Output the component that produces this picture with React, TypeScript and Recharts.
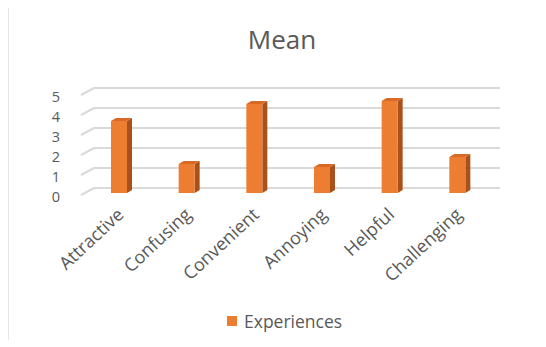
import { BarChart, Bar, XAxis, YAxis, CartesianGrid } from "recharts"

const categories = ["Attractive", "Confusing", "Convenient", "Annoying", "Helpful", "Challenging"]
const meanValues = [3.6, 1.45, 4.45, 1.3, 4.6, 1.8]
const yTicks = [0, 1, 2, 3, 4, 5]
const seriesName = "Experiences"
const chartTitle = "Mean"

const data = categories.map((name, i) => ({ name, value: meanValues[i] }))

const FONT = "'Open Sans', sans-serif"
const TEXT = "#595959"
const ORANGE = "#ED7D31"

// 3D-ish column like Excel: front face shifted forward from the back wall
function Column3D(props: any) {
  const { x, y, width, height } = props
  if (height == null || width == null) return null
  const fx = x - 9
  const fy = y + 5
  const bottom = y + height + 5
  const dx = 5
  const dy = -3
  return (
    <g>
      <path
        d={`M${fx + width},${fy} L${fx + width + dx},${fy + dy} L${fx + width + dx},${bottom + dy} L${fx + width},${bottom} Z`}
        fill="#A9501B"
      />
      <path
        d={`M${fx},${fy} L${fx + dx},${fy + dy} L${fx + width + dx},${fy + dy} L${fx + width},${fy} Z`}
        fill="#D86A26"
      />
      <rect x={fx} y={fy} width={width} height={bottom - fy} fill={ORANGE} />
    </g>
  )
}

function GridLine(p: any) {
  return (
    <path
      key={`grid-${p.index}`}
      d={`M${p.x1 - 13},${p.y1 + 7} L${p.x1},${p.y1} L${p.x2},${p.y2}`}
      stroke="#d9d9d9"
      strokeWidth={2}
      fill="none"
    />
  )
}

function YTick(props: any) {
  const { y, payload } = props
  return (
    <text x={51} y={y + 9} dy="0.35em" textAnchor="end" fill={TEXT} fontSize={14.5} fontFamily={FONT}>
      {payload.value}
    </text>
  )
}

function XTick(props: any) {
  const { x, payload } = props
  const ax = x - 3
  const ay = 208
  return (
    <text
      x={ax}
      y={ay}
      textAnchor="end"
      fill={TEXT}
      fontSize={18}
      fontFamily={FONT}
      transform={`rotate(-43 ${ax} ${ay})`}
    >
      {payload.value}
    </text>
  )
}

export default function App() {
  return (
    <div style={{ position: "relative", width: 530, height: 332, borderLeft: "1px solid #e6e6e6" }}>
      <div
        style={{
          position: "absolute",
          top: 13,
          left: 0,
          width: 546,
          textAlign: "center",
          fontFamily: FONT,
          fontSize: 26,
          lineHeight: "36px",
          color: TEXT,
        }}
      >
        {chartTitle}
      </div>
      <BarChart
        width={530}
        height={339}
        data={data}
        margin={{ top: 80, right: 39, left: 0, bottom: 79 }}
      >
        <CartesianGrid vertical={false} horizontal={GridLine as any} />
        <YAxis
          domain={[0, 5]}
          ticks={yTicks}
          interval={0}
          width={85}
          axisLine={false}
          tickLine={false}
          tick={<YTick />}
        />
        <XAxis dataKey="name" height={80} axisLine={false} tickLine={false} interval={0} tick={<XTick />} />
        <Bar dataKey="value" name={seriesName} barSize={16} shape={<Column3D />} isAnimationActive={false} />
      </BarChart>
      <div
        style={{
          position: "absolute",
          top: 301,
          left: 218,
          display: "flex",
          alignItems: "center",
          fontFamily: FONT,
          fontSize: 17.5,
          lineHeight: "24px",
          color: TEXT,
        }}
      >
        <span style={{ width: 10, height: 10, background: ORANGE, marginRight: 7, display: "inline-block" }} />
        {seriesName}
      </div>
    </div>
  )
}
